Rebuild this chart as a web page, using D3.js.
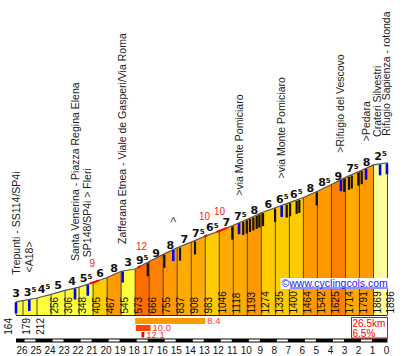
<!DOCTYPE html>
<html><head><meta charset="utf-8">
<script src="https://cdn.jsdelivr.net/npm/d3@7"></script>
<style>body{margin:0;background:#fff}svg{display:block}</style>
</head><body><svg id="c" width="402" height="356"></svg>
<script>
// ---- data ----
const kms = [26.5,26,25,24,23,22,21,20,19,18,17,16,15,14,13,12,11,10,9,8,7,6,5,4,3,2,1,0];
const elevations = [164,179,212,256,306,348,405,467,545,573,666,755,837,908,983,1046,1118,1193,1274,1335,1400,1464,1542,1625,1714,1791,1869,1896];
const gradeLabels = [3,3.5,4.5,5,4,5.5,6,8,3,9.5,9,8,7,7.5,6.5,7,7.5,8,6,6.5,6.5,8,8.5,9,7.5,8,2.5];
const placeKm = [26.5,25.55,22.29,21.38,18.89,15.28,10.59,7.55,3.32,1.53,0.53,0.04];
const placeNames = ["Trepunti - SS114/SP4i","<A18>","Santa Venerina - Piazza Regina Elena","SP148/SP4i > Fleri","Zafferana Etnea - Viale de Gasperi/Via Roma",">",">via Monte Pomiciaro",">via Monte Pomiciaro",">Rifugio del Vescovo",">Pedara","Crateri Silvestri","Rifugio Sapienza - rotonda"];
const hairpinKm = [17.10,15.92,14.80,13.73,11.07,10.29,10.04,9.81,9.57,9.33,9.14,8.88,8.02,7.19,6.95,6.48,6.29,5.05,3.08,2.75,2.55,2.08,1.84];
const steepFrom = [21.25,17.8,13.05,12.2];
const steepTo = [20.6,17.6,12.85,11.45];
const steepKm = [21.05,17.55,13.05,11.98];
const steepValues = ["9","12","10","10"];
const climbFrom = [18,17.95,17.55];
const climbTo = [13,16.9,17.35];
const climbValues = [8.4,10.0,12.1];
const totalKm = "26.5km", avgGrade = "6.5%";
const kmTicks = d3.range(0,27);

// ---- scales ----
const svg = d3.select("#c");
const x = d3.scaleLinear().domain([26.5,0]).range([16,387.5]);
const y = d3.scaleLinear().domain([0,2000]).range([315,154.4]);
const elevAt = d3.scaleLinear().domain(kms.slice().reverse()).range(elevations.slice().reverse());
const py = k => y(elevAt(k));

function colorFor(g){
  if(g<=2.5) return "#ffff99";
  if(g<=5.5) return "#ffff3c";
  if(g<=6.5) return "#ffcc00";
  if(g<=7.5) return "#ffaa00";
  if(g<=8.5) return "#ff9900";
  if(g<=9) return "#ff7f00";
  return "#ff6c00";
}

const segs = gradeLabels.map((g,i)=>({g,k0:kms[i],k1:kms[i+1],e0:elevations[i],e1:elevations[i+1]}));

// columns
svg.append("g").selectAll("path").data(segs).join("path")
  .attr("d",d=>`M${x(d.k0)},${y(0)}L${x(d.k0)},${y(d.e0)}L${x(d.k1)},${y(d.e1)}L${x(d.k1)},${y(0)}Z`)
  .attr("fill",d=>colorFor(d.g));

// dividers
svg.append("g").selectAll("line").data(kms).join("line")
  .attr("x1",d=>x(d)).attr("x2",d=>x(d))
  .attr("y1",y(0)).attr("y2",(d,i)=>y(elevations[i]))
  .attr("stroke","#444").attr("stroke-width",1);

// profile line
svg.append("path")
  .attr("d",d3.line().x((d,i)=>x(kms[i])).y(d=>y(d))(elevations))
  .attr("fill","none").attr("stroke","#555").attr("stroke-width",1.2);

// baseline
svg.append("line").attr("x1",x(26.5)).attr("x2",x(0)).attr("y1",y(0)+0.5).attr("y2",y(0)+0.5)
  .attr("stroke","#222").attr("stroke-width",1);

// steep red segments
steepFrom.forEach((a,i)=>{
  const b = steepTo[i];
  svg.append("line").attr("x1",x(a)).attr("y1",py(a)).attr("x2",x(b)).attr("y2",py(b))
    .attr("stroke","#ff0000").attr("stroke-width",2);
});

// hairpins
svg.append("g").selectAll("line").data(hairpinKm).join("line")
  .attr("x1",d=>x(d)).attr("x2",d=>x(d))
  .attr("y1",d=>py(d)+1).attr("y2",d=>py(d)+14)
  .attr("stroke","#111").attr("stroke-width",2.2);

// place markers (blue)
svg.append("g").selectAll("line").data(placeKm).join("line")
  .attr("x1",d=>x(d)).attr("x2",d=>x(d))
  .attr("y1",d=>py(d)+0.5).attr("y2",d=>py(d)+11.5)
  .attr("stroke","#0000ff").attr("stroke-width",2.6);

// place names (avoid collisions with the next label)
const placeBase = placeKm.map(k=>x(k)+3.5);
for(let i=placeBase.length-2;i>=0;i--){
  placeBase[i] = Math.min(placeBase[i], placeBase[i+1]-9.5);
}
svg.append("g").selectAll("text").data(placeKm).join("text")
  .attr("transform",(d,i)=>`translate(${placeBase[i]},${py(d)-27}) rotate(-90)`)
  .attr("font-family","Liberation Sans, Arial, sans-serif").attr("font-size",10.5)
  .attr("fill","#222").text((d,i)=>placeNames[i]);

// gradient labels
const gl = svg.append("g").selectAll("text").data(segs).join("text")
  .attr("x",d=>x(d.k1+0.5)).attr("y",d=>y(d.e0)-5)
  .attr("text-anchor","middle")
  .attr("font-family","DejaVu Sans, Verdana, sans-serif").attr("font-weight","bold")
  .attr("font-size",11).attr("fill","#111");
gl.append("tspan").text(d=>Math.floor(d.g));
gl.filter(d=>d.g%1).append("tspan").attr("font-size",7).attr("dy",-3.5).text("5");

// steep labels
svg.append("g").selectAll("text").data(steepKm).join("text")
  .attr("x",d=>x(d)).attr("y",d=>py(d)-16).attr("text-anchor","middle")
  .attr("font-family","Liberation Sans, Arial, sans-serif").attr("font-size",10)
  .attr("fill","#ff2020").text((d,i)=>steepValues[i]);

// elevation labels
svg.append("g").selectAll("text").data(elevations).join("text")
  .attr("transform",(d,i)=>{
    const below = y(d) > 296;
    const bx = i===0 ? x(kms[i])-4 : (i===kms.length-1 ? x(kms[i])+6.5 : x(kms[i])+7.2);
    const by = below ? y(0)+3 : y(0)-1.5;
    return `translate(${bx},${by}) rotate(-90)`;
  })
  .attr("text-anchor",d=>y(d)>296 ? "end" : "start")
  .attr("font-family","Liberation Sans, Arial, sans-serif").attr("font-size",10)
  .attr("fill","#111").text(d=>d);

// watermark
const wm = svg.append("g");
wm.append("rect").attr("x",280.5).attr("y",278).attr("width",109).attr("height",11).attr("fill","#fff");
const wt = wm.append("text").attr("x",281.5).attr("y",286.5)
  .attr("font-family","Liberation Sans, Arial, sans-serif").attr("font-size",10.5).attr("fill","#2020ff");
wt.append("tspan").text("©");
wt.append("tspan").text("www.cyclingcols.com");
const wtl = wt.node().getComputedTextLength();
wm.append("line").attr("x1",290).attr("x2",281.5+wtl).attr("y1",288).attr("y2",288)
  .attr("stroke","#2020ff").attr("stroke-width",1);

// climb bars
const cbColors = ["#ff9900","#ff4400","#ff0000"];
climbFrom.forEach((a,i)=>{
  const top = 318 + i*7;
  const h = i===2 ? 5.5 : 6;
  svg.append("rect").attr("x",x(a)).attr("y",top).attr("width",x(climbTo[i])-x(a)).attr("height",h)
    .attr("fill",cbColors[i]);
  svg.append("text").attr("x",x(climbTo[i])+2).attr("y",top+6)
    .attr("font-family","Liberation Sans, Arial, sans-serif").attr("font-size",9.5)
    .attr("fill","#ff3030").text(climbValues[i].toFixed(1));
});

// summary box
svg.append("rect").attr("x",351.5).attr("y",317.5).attr("width",36).attr("height",20.5)
  .attr("fill","#fff").attr("stroke","#ff0000").attr("stroke-width",1);
svg.append("text").attr("x",352.5).attr("y",326.5).attr("font-family","Liberation Sans, Arial, sans-serif")
  .attr("font-size",10).attr("fill","#ff0000").text(totalKm);
svg.append("text").attr("x",352.5).attr("y",336.5).attr("font-family","Liberation Sans, Arial, sans-serif")
  .attr("font-size",10).attr("fill","#ff0000").text(avgGrade);

// km scale bar
svg.append("rect").attr("x",x(26.5)).attr("y",338.5).attr("width",x(0)-x(26.5)).attr("height",4).attr("fill","#000");
svg.append("g").selectAll("rect").data(kmTicks.filter(k=>k>0 && k%2===0)).join("rect")
  .attr("x",d=>x(d)+1.5).attr("y",339.5).attr("width",d=>x(d-1)-x(d)-3).attr("height",2).attr("fill","#fff");

// km labels
svg.append("g").selectAll("text").data(kmTicks).join("text")
  .attr("x",d=>x(d)-1).attr("y",354).attr("text-anchor","middle")
  .attr("font-family","Liberation Sans, Arial, sans-serif").attr("font-size",10)
  .attr("fill","#111").text(d=>d);
</script></body></html>
